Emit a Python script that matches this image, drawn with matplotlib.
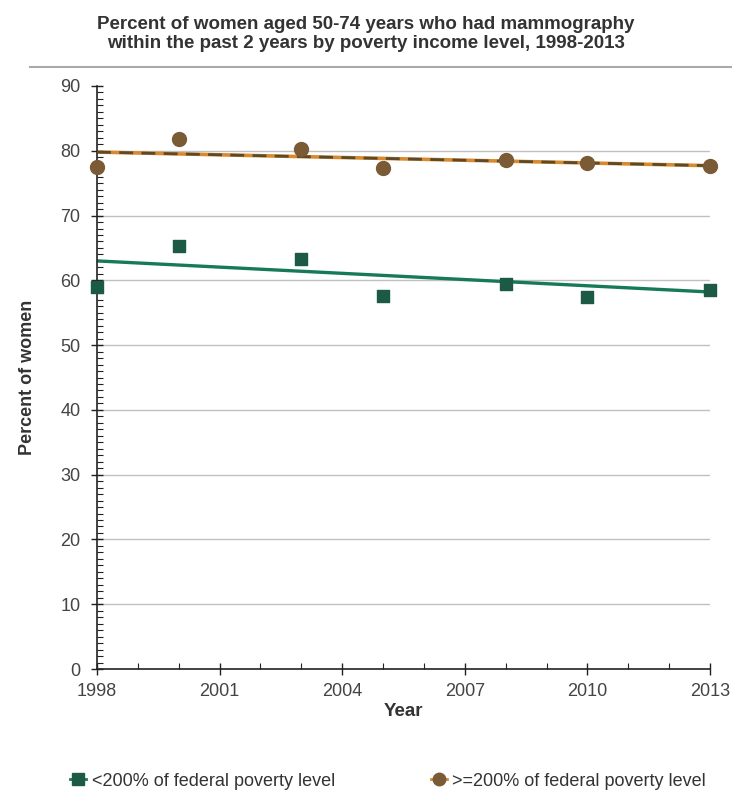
import matplotlib
matplotlib.use('Agg')
import matplotlib.pyplot as plt
from matplotlib.lines import Line2D
from matplotlib.ticker import MultipleLocator

plt.rcParams['font.family'] = ['Liberation Sans', 'DejaVu Sans']

# data
years = [1998, 2000, 2003, 2005, 2008, 2010, 2013]
below_200 = [59.0, 65.3, 63.3, 57.6, 59.4, 57.4, 58.5]
above_200 = [77.5, 81.8, 80.2, 77.3, 78.5, 78.1, 77.6]

trend_years = [1998, 2013]
below_trend = [63.0, 58.2]
above_trend = [79.8, 77.7]

x_ticks = [1998, 2001, 2004, 2007, 2010, 2013]
y_ticks = [0, 10, 20, 30, 40, 50, 60, 70, 80, 90]

green_mk = '#1d5a45'
green_ln = '#16795a'
brown_mk = '#7b5a36'
orange_ln = '#d98a2e'
dark_dash = '#5a4a2c'

fig = plt.figure(figsize=(7.32, 7.94), dpi=100)
ax = fig.add_axes([97/732, 1 - 669/794, (710 - 97)/732, (669 - 86)/794])

for y in y_ticks[1:-1]:
    ax.axhline(y, color='#c0c0c0', lw=1.0, zorder=0)

ax.plot(trend_years, below_trend, color=green_ln, lw=2.4, zorder=2)
ax.plot(trend_years, above_trend, color=orange_ln, lw=2.6, zorder=2)
ax.plot(trend_years, above_trend, color=dark_dash, lw=2.0, ls=(0, (5, 3)), zorder=3)

ax.scatter(years, below_200, marker='s', s=65, color=green_mk, zorder=4, clip_on=False)
ax.scatter(years, above_200, marker='o', s=100, color=brown_mk, zorder=4, clip_on=False)

ax.set_xlim(1998, 2013)
ax.set_ylim(0, 90)
ax.set_xticks(x_ticks)
ax.set_yticks(y_ticks)
ax.xaxis.set_minor_locator(MultipleLocator(1))
ax.yaxis.set_minor_locator(MultipleLocator(1))
ax.tick_params(axis='both', which='major', direction='inout', length=8, width=1,
               labelsize=13, labelcolor='#444444', color='#222222')
ax.tick_params(axis='y', which='major', pad=8)
ax.tick_params(axis='x', which='major', pad=6)
ax.tick_params(axis='both', which='minor', direction='in', length=4, width=0.8, color='#222222')

for s in ['top', 'right']:
    ax.spines[s].set_visible(False)
for s in ['left', 'bottom']:
    ax.spines[s].set_color('#222222')
    ax.spines[s].set_linewidth(1.2)

ax.set_xlabel('Year', fontsize=13.5, fontweight='bold', color='#333333', labelpad=2)
ax.set_ylabel('Percent of women', fontsize=13, fontweight='bold', color='#333333', labelpad=17)

fig.text(0.5, 0.957,
         'Percent of women aged 50-74 years who had mammography\n'
         'within the past 2 years by poverty income level, 1998-2013',
         ha='center', va='center', fontsize=13.5, fontweight='bold', color='#333333',
         linespacing=1.2)
fig.add_artist(Line2D([30/732, 1.0], [1 - 67/794, 1 - 67/794], color='#aaaaaa', lw=1.5))

handles = [
    Line2D([], [], color=green_ln, lw=2, marker='s', markersize=8,
           markerfacecolor=green_mk, markeredgecolor=green_mk),
    Line2D([], [], color=orange_ln, lw=2, marker='o', markersize=9,
           markerfacecolor=brown_mk, markeredgecolor=brown_mk),
]
labels = ['<200% of federal poverty level', '>=200% of federal poverty level']
fig.legend(handles, labels, loc='center', bbox_to_anchor=(0.53, 1 - 781/794), ncol=2,
           frameon=False, fontsize=13, handlelength=0.9, handletextpad=0.3,
           columnspacing=5.3, labelcolor='#333333')

fig.savefig('out.png', dpi=100, facecolor='white')
